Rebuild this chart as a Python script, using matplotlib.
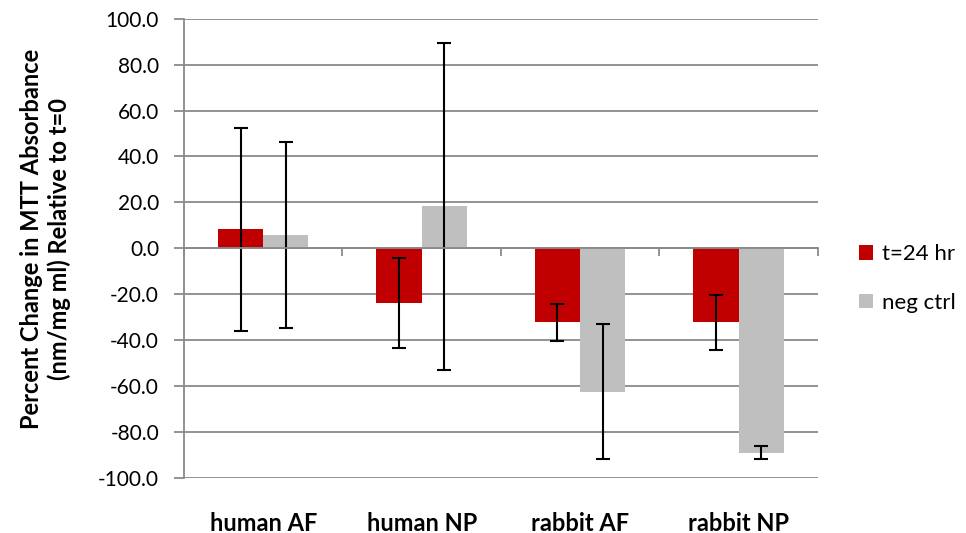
import matplotlib

matplotlib.use("Agg")
import matplotlib.pyplot as plt
import matplotlib.transforms as mtransforms
import numpy as np

plt.rcParams.update(
    {
        "font.family": ["Lato", "DejaVu Sans"],
        "figure.facecolor": "white",
        "axes.facecolor": "white",
    }
)

categories = ["human AF", "human NP", "rabbit AF", "rabbit NP"]
series_names = ["t=24 hr", "neg ctrl"]
t24_values = [8.3, -23.9, -32.2, -32.2]
t24_errors = [44.3, 19.5, 8.0, 12.1]
neg_values = [5.8, 18.3, -62.5, -88.9]
neg_errors = [40.6, 71.3, 29.4, 2.9]
yticks = [-100, -80, -60, -40, -20, 0, 20, 40, 60, 80, 100]

RED = "#C00000"
GRAY = "#BFBFBF"
GRID = "#8A8A8A"

fig = plt.figure(figsize=(9.66, 5.33), dpi=100)
ax = fig.add_axes([0.1905, 0.103, 0.656, 0.862])

x = np.arange(len(categories))
width = 0.2857
err_kw = dict(ecolor="black", elinewidth=1.5, capsize=5, capthick=1.5)
ax.bar(x - width / 2, t24_values, width, color=RED, yerr=t24_errors,
       error_kw=err_kw, label=series_names[0], zorder=3)
ax.bar(x + width / 2, neg_values, width, color=GRAY, yerr=neg_errors,
       error_kw=err_kw, label=series_names[1], zorder=3)

ax.set_xlim(-0.5, len(categories) - 0.5)
ax.set_ylim(-100, 100)
ax.set_yticks(yticks)
ax.set_yticklabels([f"{v:.1f}" for v in yticks])
ax.yaxis.grid(True, color=GRID, linewidth=1.3, zorder=0)
ax.set_axisbelow(True)

for side in ("top", "right"):
    ax.spines[side].set_visible(False)
ax.spines["left"].set_color(GRID)
ax.spines["left"].set_linewidth(1.3)
ax.spines["bottom"].set_position(("data", 0))
ax.spines["bottom"].set_color(GRID)
ax.spines["bottom"].set_linewidth(1.3)
ax.spines["bottom"].set_zorder(4)

ax.set_xticks(np.arange(len(categories) + 1) - 0.5)
ax.set_xticklabels([])
ax.tick_params(axis="x", direction="out", length=6, width=1.3, color=GRID)
ax.tick_params(axis="y", direction="out", length=7, width=1.3, color=GRID,
               labelsize=15, pad=11)

# category names sit below the plot area, not at the zero axis
trans = mtransforms.blended_transform_factory(ax.transData, ax.transAxes)
for xi, name in zip(x, categories):
    ax.text(xi, -0.098, name, transform=trans, ha="center", va="center",
            fontsize=17, fontweight="bold")

ax.set_ylabel("Percent Change in MTT Absorbance\n(nm/mg ml) Relative to t=0",
              fontsize=17, fontweight="bold", linespacing=1.25)
ax.yaxis.set_label_coords(-0.178, 0.52)

ax.legend(loc="center left", bbox_to_anchor=(0.869, 0.477),
          bbox_transform=fig.transFigure, frameon=False, fontsize=16,
          handlelength=0.6, handleheight=0.6, handletextpad=0.4,
          labelspacing=1.3)

fig.savefig("out.png", dpi=100)
